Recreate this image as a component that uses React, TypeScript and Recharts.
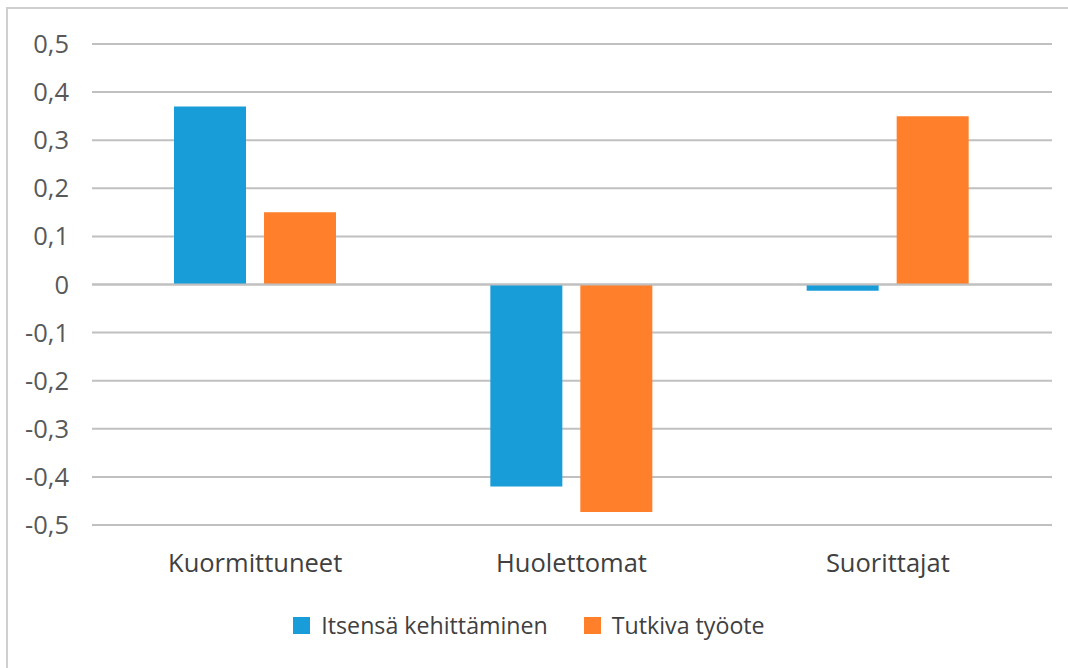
import React from "react";
import { BarChart, Bar, XAxis, YAxis, CartesianGrid, Legend, ReferenceLine } from "recharts";

const categories = ["Kuormittuneet", "Huolettomat", "Suorittajat"];
const itsensaKehittaminen = [0.37, -0.42, -0.013];
const tutkivaTyoote = [0.15, -0.473, 0.35];
const yTicks = [-0.5, -0.4, -0.3, -0.2, -0.1, 0, 0.1, 0.2, 0.3, 0.4, 0.5];
const seriesNames = ["Itsensä kehittäminen", "Tutkiva työote"];
const seriesColors = ["#189DD9", "#FF7F2A"];

const data = categories.map((c, i) => ({
  name: c,
  a: itsensaKehittaminen[i],
  b: tutkivaTyoote[i],
}));

const FONT = "'Open Sans', 'Noto Sans', sans-serif";

const fmt = (v: number) => {
  if (v === 0) return "0";
  return v.toFixed(1).replace(".", ",");
};

const LegendContent = (props: any) => {
  const payload = props.payload || [];
  return (
    <div style={{ display: "flex", justifyContent: "center", alignItems: "center", height: 30, paddingLeft: 6, fontFamily: FONT }}>
      {payload.map((p: any, i: number) => (
        <div key={i} style={{ display: "flex", alignItems: "center", marginLeft: i > 0 ? 36 : 0 }}>
          <div style={{ width: 17, height: 17, background: p.color, marginRight: 11 }} />
          <span style={{ fontSize: 23.2, color: "#404040", lineHeight: "30px" }}>{p.value}</span>
        </div>
      ))}
    </div>
  );
};

export default function App() {
  return (
    <div style={{ position: "fixed", left: 0, top: 0, width: 1068, height: 668, overflow: "hidden", background: "#fff" }}>
      <div style={{ position: "absolute", left: 6, top: 7, width: 1062, height: 661, borderTop: "2px solid #cfcfcf", borderLeft: "2px solid #cfcfcf", boxSizing: "border-box" }} />
      <div style={{ position: "absolute", left: 0, top: 0 }}>
        <BarChart
          width={1068}
          height={668}
          data={data}
          margin={{ top: 44, right: 16, left: 0, bottom: 28 }}
          barSize={72}
          barGap={18}
        >
          <CartesianGrid vertical={false} stroke="#c0c0c0" strokeWidth={2} />
          <XAxis
            dataKey="name"
            axisLine={false}
            tickLine={false}
            tickSize={8}
            tickMargin={21}
            height={85}
            padding={{ left: 5, right: 6 }}
            tick={{ fill: "#404040", fontSize: 25.5, fontFamily: FONT }}
            interval={0}
          />
          <YAxis
            domain={[-0.5, 0.5]}
            ticks={yTicks}
            tickFormatter={fmt}
            axisLine={false}
            tickLine={false}
            tickSize={8}
            tickMargin={15}
            width={92}
            tick={{ fill: "#595959", fontSize: 25.5, fontFamily: FONT }}
            interval={0}
          />
          <Legend verticalAlign="bottom" height={30} content={<LegendContent />} />
          <Bar dataKey="a" name={seriesNames[0]} fill={seriesColors[0]} isAnimationActive={false} />
          <Bar dataKey="b" name={seriesNames[1]} fill={seriesColors[1]} isAnimationActive={false} />
          <ReferenceLine y={0} stroke="#c0c0c0" strokeWidth={2} />
        </BarChart>
      </div>
    </div>
  );
}
